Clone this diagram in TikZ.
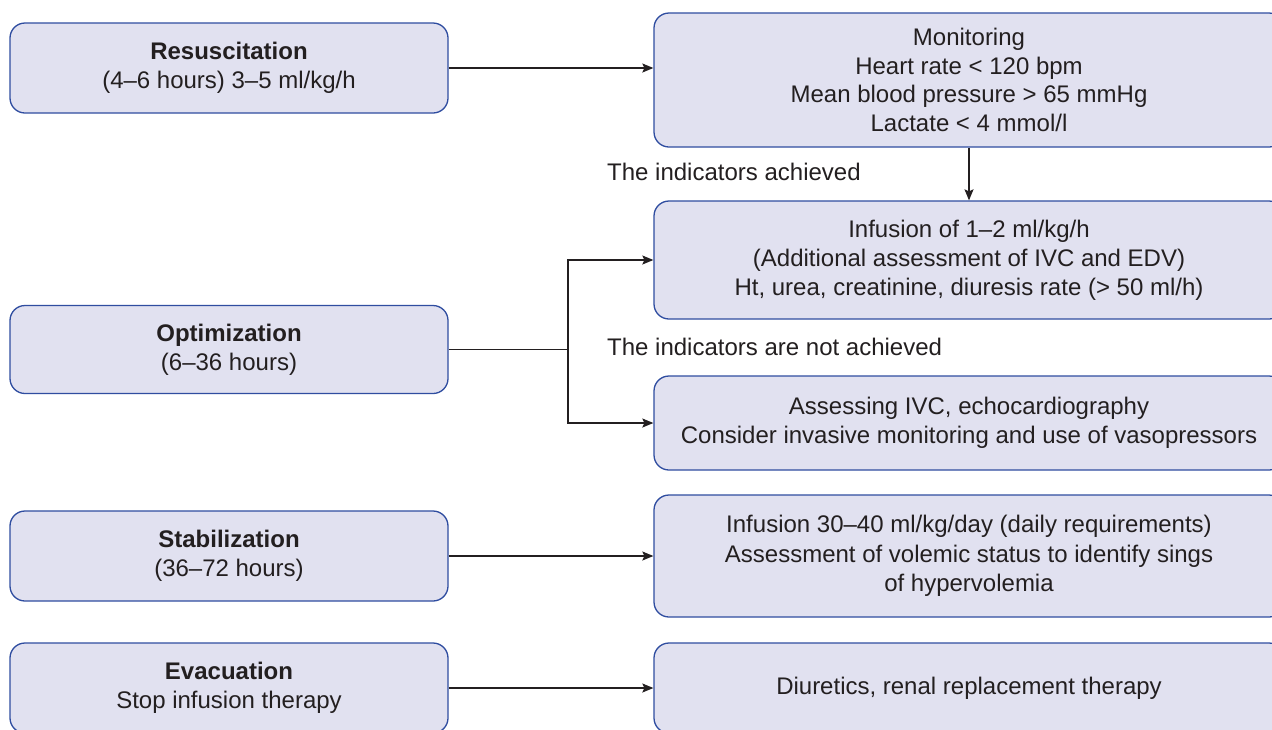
\documentclass[tikz,border=0pt]{standalone}
\usepackage{fontspec}
\setmainfont{Liberation Sans}
\usetikzlibrary{arrows.meta}
\definecolor{boxfill}{RGB}{225,225,240}
\definecolor{boxline}{RGB}{47,77,160}
\definecolor{ink}{RGB}{35,31,32}
\tikzset{
  box/.style={draw=boxline, fill=boxfill, rounded corners=15pt, line width=1.3pt,
    align=center, inner sep=0pt, text=ink,
    font=\fontsize{24}{28.8}\selectfont},
  leftbox/.style={box, minimum width=438pt},
  rightbox/.style={box, minimum width=630pt},
  conn/.style={draw=ink, line width=1.3pt},
  arr/.style={conn, -{Stealth[length=11pt,width=9pt,inset=2pt]}},
  lbl/.style={anchor=west, inner sep=0pt, text=ink, font=\fontsize{24}{28.8}\selectfont}
}
\begin{document}
\begin{tikzpicture}[x=1pt,y=-1pt]
\clip (0,0) rectangle (1272,729);
\fill[white] (0,0) rectangle (1272,729);
% left boxes
\node[leftbox, minimum height=90pt] (resus) at (229,68) {\textbf{Resuscitation}\\(4–6 hours) 3–5 ml/kg/h};
\node[leftbox, minimum height=88pt] (optim) at (229,349.5) {\textbf{Optimization}\\(6–36 hours)};
\node[leftbox, minimum height=90pt] (stab) at (229,556) {\textbf{Stabilization}\\(36–72 hours)};
\node[leftbox, minimum height=90pt] (evac) at (229,688) {\textbf{Evacuation}\\Stop infusion therapy};
% right boxes
\node[rightbox, minimum height=134pt] (monit) at (969,80) {Monitoring\\Heart rate < 120 bpm\\Mean blood pressure > 65 mmHg\\Lactate < 4 mmol/l};
\node[rightbox, minimum height=118pt] (infus) at (969,260) {Infusion of 1–2 ml/kg/h\\(Additional assessment of IVC and EDV)\\Ht, urea, creatinine, diuresis rate (> 50 ml/h)};
\node[rightbox, minimum height=94pt] (assess) at (969,423) {Assessing IVC, echocardiography\\Consider invasive monitoring and use of vasopressors};
\node[rightbox, minimum height=122pt, font=\fontsize{24}{29.5}\selectfont] (stabr) at (969,556) {Infusion 30–40 ml/kg/day (daily requirements)\\Assessment of volemic status to identify sings\\of hypervolemia};
\node[rightbox, minimum height=90pt] (evacr) at (969,688) {Diuretics, renal replacement therapy};
% labels
\node[lbl] (lach) at (607,172) {The indicators achieved};
\node[lbl] (lnot) at (607,347) {The indicators are not achieved};
% connectors
\draw[arr] (resus.east) -- (resus.east -| monit.west);
\draw[arr] (monit.south) -- (infus.north);
\coordinate (br) at (568,349.5);
\draw[conn] (optim.east) -- (br);
\draw[arr] (br) |- (infus.west);
\draw[arr] (br) |- (assess.west);
\draw[arr] (stab.east) -- (stabr.west);
\draw[arr] (evac.east) -- (evacr.west);
\end{tikzpicture}
\end{document}
